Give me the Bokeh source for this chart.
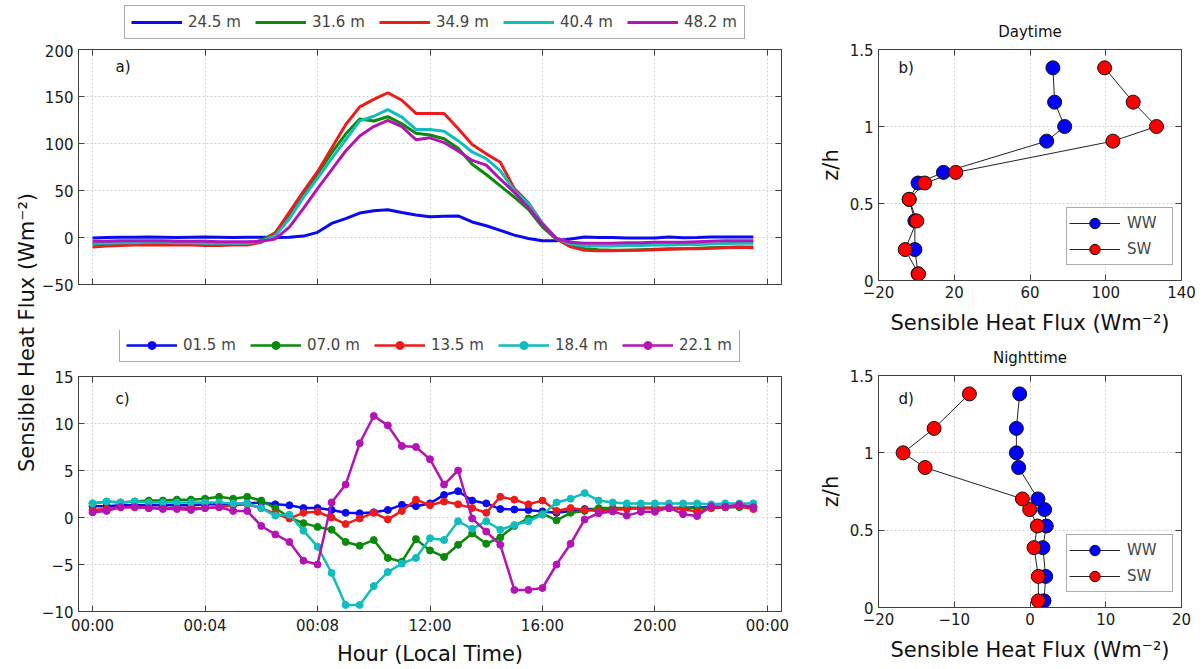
import numpy as np
from bokeh.plotting import figure
from bokeh.layouts import row, column
from bokeh.models import (Legend, LegendItem, Label, LinearAxis, FixedTicker, Title,
                          CustomLabelingPolicy)
from bokeh.embed import file_html
from bokeh.resources import INLINE

FONT = "DejaVu Sans"
AXIS_COLOR = "#404040"

# half-hourly time stamps (hours, local time)
hours = np.arange(0.0, 24.0, 0.5)
hour_ticks = [0, 4, 8, 12, 16, 20, 24]
hour_tick_labels = ["00:00", "00:04", "00:08", "12:00", "16:00", "20:00", "00:00"]

# a) sensible heat flux above the canopy (W m-2)
upper_labels = ["24.5 m", "31.6 m", "34.9 m", "40.4 m", "48.2 m"]
flux_245 = [-0.5, 0, 0.3, 0.2, 0.5, 0.3, 0, 0.2, 0.4, 0.2, 0, 0.3,
            0.2, 0, 0.3, 1.5, 5.5, 15, 20, 26, 28.5, 29.5, 26.5, 24,
            22, 22.5, 23, 16.5, 12.5, 7.5, 2.5, -1, -3.5, -3.5, -1.5, 0.5,
            0, 0, -0.5, -0.5, -0.5, 0.5, -0.3, 0, 0.5, 0.5, 0.5, 0.5]
flux_316 = [-7, -7, -6.5, -6, -6, -6, -6, -6.5, -6.5, -7, -7, -7,
            -3, 5, 25, 47, 68, 90, 110, 126, 124, 128.5, 121, 111,
            109, 105, 95, 78, 67, 55, 43, 30, 11, -2, -9, -12,
            -13, -13.5, -13.5, -13, -12.5, -12, -12, -11.5, -11, -10.5, -10, -10]
flux_349 = [-10, -9, -8.5, -8, -8, -8, -8, -8, -8.5, -8.5, -8, -8,
            -5, 5, 27, 49, 70, 95, 120, 139, 147, 154, 146, 132,
            132, 132, 116, 99, 89, 80, 52, 37, 15, -1, -10, -13.5,
            -14, -14, -13.5, -13.5, -13, -12.5, -12, -12, -11.5, -11, -10.5, -11]
flux_404 = [-6, -6, -5.5, -5.5, -5, -5, -5.5, -5.5, -6, -6, -6, -6,
            -4, 2, 20, 43, 63, 84, 104, 124, 129, 136, 128, 115,
            115, 113, 103, 91, 84, 71, 50, 36, 15, -1, -7, -9,
            -9, -9, -8.5, -8.5, -8, -8, -7.5, -7.5, -7, -6.5, -6, -6]
flux_482 = [-4, -4, -3.5, -3.5, -3.5, -3.5, -4, -4, -4, -4.5, -4.5, -4.5,
            -4, -1.5, 11, 31, 52, 72, 92, 108, 118, 124.5, 118, 104,
            106, 101, 92, 82, 77, 62, 48, 32, 14, -1, -5, -6,
            -6, -6, -5.5, -5.5, -5, -5, -5, -4.5, -4, -3.5, -3.5, -3.5]

# c) sensible heat flux inside the canopy (W m-2)
lower_labels = ["01.5 m", "07.0 m", "13.5 m", "18.4 m", "22.1 m"]
flux_015 = [1.2, 1.2, 1.3, 1.3, 1.3, 1.3, 1.3, 1.3, 1.4, 1.4, 1.4, 1.5,
            1.6, 1.4, 1.3, 1.0, 1.0, 0.8, 0.5, 0.45, 0.55, 0.8, 1.35, 1.2,
            1.5, 2.4, 2.8, 1.8, 1.5, 0.9, 0.85, 0.8, 0.65, 0.5, 0.7, 0.9,
            0.9, 0.9, 1.0, 1.0, 1.0, 1.0, 1.0, 1.1, 1.1, 1.1, 1.2, 1.2]
flux_070 = [1.5, 1.7, 1.6, 1.7, 1.8, 1.8, 1.9, 1.9, 2.0, 2.2, 2.0, 2.2,
            1.8, 1.0, 0.0, -0.6, -1.0, -1.3, -2.6, -3.0, -2.4, -4.3, -4.7, -2.3,
            -3.5, -4.2, -2.9, -1.7, -2.8, -2.1, -0.9, -0.1, 0.4, -0.3, 0.5, 0.7,
            1.0, 1.0, 1.0, 1.0, 1.0, 1.0, 1.0, 1.0, 1.0, 1.1, 1.1, 1.1]
flux_135 = [0.8, 0.9, 1.1, 1.1, 1.0, 1.0, 1.0, 1.0, 1.0, 1.1, 1.3, 1.4,
            1.0, 0.4, -0.1, 0.5, 0.6, 0.0, -0.7, -0.1, 0.5, -0.2, 0.7, 1.9,
            1.3, 1.7, 1.4, 1.0, 0.5, 2.2, 1.9, 1.4, 1.8, 0.7, 1.0, 0.8,
            0.7, 0.8, 0.9, 1.0, 1.0, 1.0, 0.9, 0.6, 1.0, 1.1, 1.2, 0.9]
flux_184 = [1.5, 1.7, 1.6, 1.7, 1.6, 1.6, 1.6, 1.6, 1.6, 1.6, 1.5, 1.5,
            1.0, 0.2, 0.3, -1.4, -3.1, -5.9, -9.3, -9.3, -7.3, -5.8, -4.9, -4.3,
            -2.2, -2.4, -0.4, -1.2, -0.4, -1.3, -0.8, -0.4, 0.3, 1.6, 2.0, 2.6,
            1.8, 1.6, 1.5, 1.5, 1.5, 1.5, 1.5, 1.5, 1.4, 1.5, 1.5, 1.5]
flux_221 = [0.55, 0.7, 1.1, 1.1, 1.0, 0.9, 0.9, 0.8, 1.0, 1.1, 0.7, 0.7,
            -0.9, -1.8, -2.6, -4.6, -5.0, 1.6, 3.5, 7.9, 10.8, 9.8, 7.6, 7.5,
            6.2, 3.5, 5.0, -0.1, -1.5, -2.9, -7.7, -7.7, -7.5, -5.0, -2.8, -0.2,
            0.45, 0.65, 0.2, 0.6, 0.6, 1.05, 0.35, 0.15, 1.2, 1.15, 1.35, 1.1]

series_colors = ["#0a0af0", "#0a8a0a", "#ec1c1c", "#10bcbc", "#b414b4"]

# b), d) mean profiles, normalised height z/h
z_over_h = [0.043, 0.201, 0.387, 0.527, 0.633, 0.702, 0.905, 1.000, 1.158, 1.381]
day_ww = [0.9, -0.8, -0.8, -3.8, 0.9, 14.3, 68.8, 78.3, 73.0, 72.1]
day_sw = [1.1, -5.9, 0.2, -3.8, 4.4, 20.8, 103.8, 126.8, 114.5, 99.4]
night_ww = [1.85, 2.07, 1.7, 2.15, 1.93, 1.05, -1.5, -1.8, -1.8, -1.36]
night_sw = [1.1, 1.1, 0.53, 0.97, -0.04, -1.0, -13.85, -16.75, -12.66, -8.0]
profile_labels = ["WW", "SW"]
profile_colors = ["#0000ff", "#ff0000"]

FLUX_LABEL = "Sensible Heat Flux (Wm\u207b\u00b2)"

# hides every tick label of an axis while keeping its ticks
NO_LABELS = "for (const i of indices) indices.unset(i)"


def make_fig(width, height, xr, yr, borders):
    left, right, top, bottom = borders
    return figure(width=width, height=height, x_range=xr, y_range=yr,
                  min_border_left=left, min_border_right=right,
                  min_border_top=top, min_border_bottom=bottom,
                  title_location=None,
                  toolbar_location=None, output_backend="svg")


def blank_fig(width, height):
    f = figure(width=width, height=height, x_range=(0, 1), y_range=(0, 1),
               x_axis_type=None, y_axis_type=None, min_border=0, title_location=None,
               toolbar_location=None, output_backend="svg")
    f.outline_line_color = None
    f.grid.visible = False
    return f


def hide_labels(ax):
    ax.major_label_policy = CustomLabelingPolicy(code=NO_LABELS)
    ax.major_label_standoff = 0
    ax.major_label_text_font_size = "1px"


def style_frame(p, xticks, yticks):
    p.xaxis.ticker = FixedTicker(ticks=xticks)
    p.yaxis.ticker = FixedTicker(ticks=yticks)
    top = LinearAxis(ticker=FixedTicker(ticks=xticks))
    right = LinearAxis(ticker=FixedTicker(ticks=yticks))
    p.add_layout(top, "above")
    p.add_layout(right, "right")
    for ax in p.axis:
        ax.axis_line_color = AXIS_COLOR
        ax.major_tick_line_color = AXIS_COLOR
        ax.major_tick_in = 6
        ax.major_tick_out = 0
        ax.minor_tick_line_color = None
        ax.major_label_text_font = FONT
        ax.major_label_text_color = "#1a1a1a"
        ax.axis_label_text_font = FONT
        ax.axis_label_text_font_size = "21px"
        ax.axis_label_text_font_style = "normal"
        ax.axis_label_text_color = "#111111"
    for ax in (p.below[0], p.left[0]):
        ax.major_label_text_font_size = "15px"
        ax.major_label_standoff = 5
    for ax in (top, right):
        hide_labels(ax)
    p.outline_line_color = AXIS_COLOR
    p.grid.grid_line_color = "#d2d2d2"
    p.grid.grid_line_dash = "2 2"
    p.background_fill_color = "white"


def panel_letter(p, x, y, text):
    p.add_layout(Label(x=x, y=y, text=text, text_font=FONT, text_font_size="15px",
                       text_align="left", text_baseline="middle", text_color="#111111"))


def series_legend_fig(height, location, labels, with_markers):
    """A strip holding only the horizontal legend of a time-series panel.
    Its swatch renderers carry a single NaN point, so nothing shows in the strip itself."""
    f = blank_fig(770, height)
    items = []
    for lab, col in zip(labels, series_colors):
        rends = [f.line(x=[np.nan], y=[np.nan], line_color=col,
                        line_width=2.5 if with_markers else 3)]
        if with_markers:
            rends.append(f.scatter(x=[np.nan], y=[np.nan], size=7, fill_color=col, line_color=col))
        items.append(LegendItem(label=lab, renderers=rends))
    leg = Legend(items=items, orientation="horizontal", location=location,
                 glyph_width=51, glyph_height=20, label_height=20, label_width=54,
                 label_standoff=6, spacing=13, padding=6, margin=0,
                 label_text_font=FONT, label_text_font_size="15px",
                 border_line_color="#555555", border_line_width=1)
    f.add_layout(leg)
    return f


# ---- shared y label for panels a) and c)
ylab = blank_fig(38, 669)
ylab.add_layout(Label(x=26, y=337, x_units="screen", y_units="screen", text=FLUX_LABEL,
                      angle=90, angle_units="deg", text_align="center", text_baseline="middle",
                      text_font=FONT, text_font_size="21px", text_color="#111111"))

# ---- a) above-canopy time series
leg_a = series_legend_fig(44, (46, 5), upper_labels, False)
pa = make_fig(770, 286, (-0.5, 24.5), (-50, 200), (40, 27, 5, 46))
upper = [flux_245, flux_316, flux_349, flux_404, flux_482]
for vals, col in zip(upper, series_colors):
    pa.line(hours, vals, line_color=col, line_width=3)
style_frame(pa, hour_ticks, [-50, 0, 50, 100, 150, 200])
hide_labels(pa.below[0])
panel_letter(pa, 0.82, 181, "a)")

# ---- c) within-canopy time series
leg_c = series_legend_fig(40, (41, 8), lower_labels, True)
pc = make_fig(770, 299, (-0.5, 24.5), (-10, 15), (40, 27, 6, 58))
lower = [flux_015, flux_070, flux_135, flux_184, flux_221]
for vals, col in zip(lower, series_colors):
    pc.line(hours, vals, line_color=col, line_width=2.5)
    pc.scatter(hours, vals, size=7, fill_color=col, line_color=col)
pc.xaxis.major_label_overrides = {t: s for t, s in zip(hour_ticks, hour_tick_labels)}
pc.xaxis.axis_label = "Hour (Local Time)"
style_frame(pc, hour_ticks, [-10, -5, 0, 5, 10, 15])
pc.below[0].axis_label_standoff = 4
panel_letter(pc, 0.82, 12.6, "c)")


def profile_panel(height, borders, xr, xticks, ww, sw, letter, letter_xy, title):
    p = make_fig(396, height, xr, (0, 1.5), borders)
    items = []
    for vals, lab, col in zip([ww, sw], profile_labels, profile_colors):
        rl = p.line(vals, z_over_h, line_color="#222222", line_width=1)
        rs = p.scatter(vals, z_over_h, size=14, fill_color=col, line_color="#111111", line_width=1)
        items.append(LegendItem(label=lab, renderers=[rl, rs]))
    p.xaxis.axis_label = FLUX_LABEL
    p.yaxis.axis_label = "z/h"
    p.yaxis.major_label_overrides = {0: "0", 0.5: "0.5", 1: "1", 1.5: "1.5"}
    style_frame(p, xticks, [0, 0.5, 1, 1.5])
    p.left[0].axis_label_standoff = 4
    p.below[0].axis_label_standoff = 10
    panel_letter(p, letter_xy[0], letter_xy[1], letter)
    p.add_layout(Title(text=title, align="center", text_font=FONT, text_font_size="15px",
                       text_font_style="normal", text_color="#111111", standoff=10), "above")
    leg = Legend(items=items, orientation="vertical", location=(188, 15),
                 glyph_width=51, glyph_height=26, label_height=20, label_width=43,
                 label_standoff=7, spacing=0, padding=2, margin=0,
                 label_text_font=FONT, label_text_font_size="15px",
                 border_line_color="#555555", border_line_width=1)
    p.add_layout(leg)
    return p


pb = profile_panel(340, (70, 23, 49, 60), (-20, 140), [-20, 20, 60, 100, 140],
                   day_ww, day_sw, "b)", (-9.4, 1.38), "Daytime")
pd = profile_panel(329, (70, 23, 35, 62), (-20, 20), [-20, -10, 0, 10, 20],
                   night_ww, night_sw, "d)", (-17.36, 1.348), "Nighttime")

layout = row(ylab, column(leg_a, pa, leg_c, pc), column(pb, pd))

open("out.html", "w").write(file_html(layout, INLINE))
